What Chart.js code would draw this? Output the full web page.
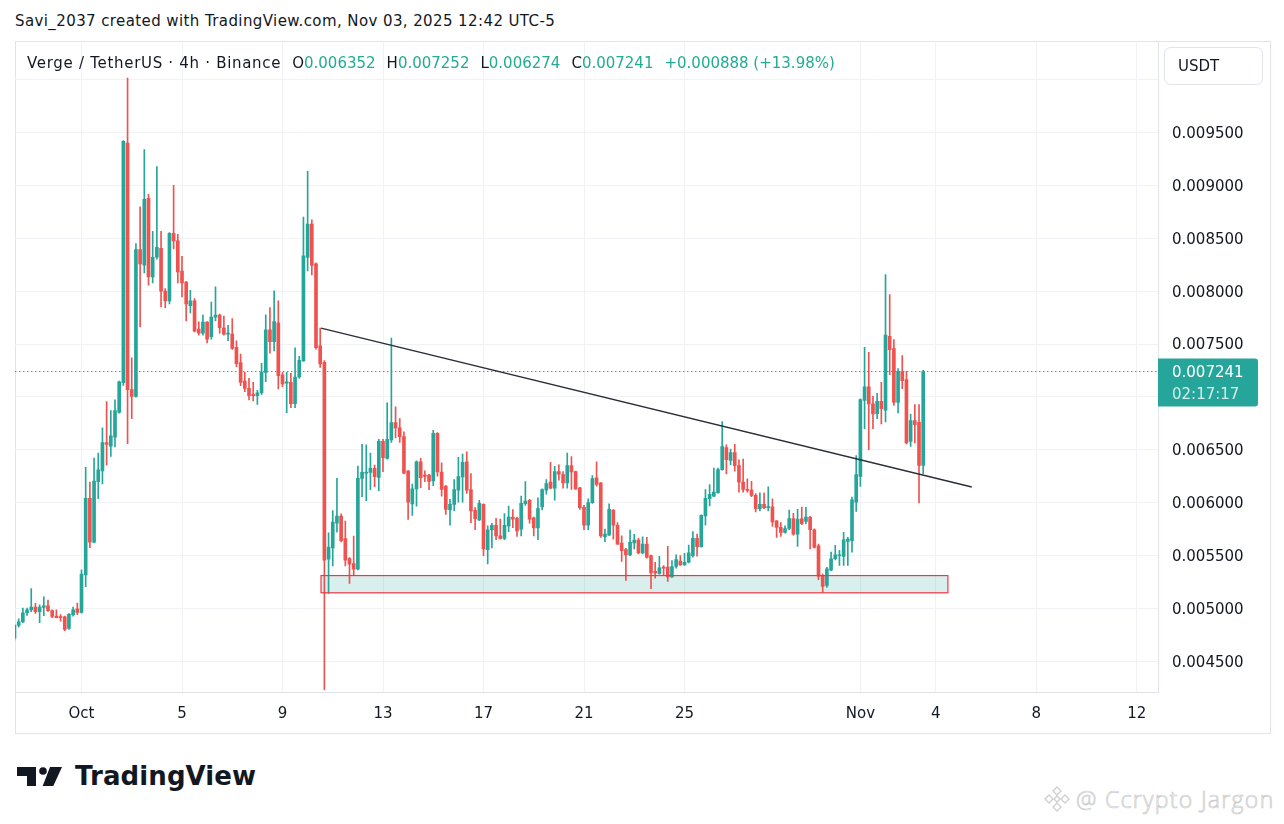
<!DOCTYPE html>
<html>
<head>
<meta charset="utf-8">
<script src="https://cdn.jsdelivr.net/npm/chart.js@4.4.1/dist/chart.umd.min.js"></script>
<style>
html,body{margin:0;padding:0;background:#fff;}
body{width:1284px;height:824px;position:relative;overflow:hidden;font-family:"DejaVu Sans",sans-serif;color:#131722;}
#title{position:absolute;left:15px;top:11px;font-size:15px;line-height:20px;white-space:nowrap;letter-spacing:0.4px;}
#pane{position:absolute;left:15px;top:41px;width:1256px;height:693px;box-sizing:border-box;border:1px solid #e0e3eb;}
#chart{position:absolute;left:15px;top:41px;}
#legend{position:absolute;left:27px;top:53px;font-size:15px;line-height:20px;white-space:nowrap;}
#legend .sym{letter-spacing:0.7px;}
#legend .v{color:#22ab94;}
#legend .k{margin-left:11px;}
#logo{position:absolute;left:17px;top:765px;}
#logotext{position:absolute;left:75px;top:760px;font-family:"DejaVu Sans",sans-serif;font-weight:bold;font-size:26px;line-height:32px;color:#131722;letter-spacing:0.1px;}
#wm{position:absolute;left:1042px;top:784px;height:30px;white-space:nowrap;}
#wmtext{position:absolute;left:34px;top:0;font-family:"Open Sans",sans-serif;font-weight:300;font-size:23px;line-height:30px;color:#fff;letter-spacing:1.3px;-webkit-text-stroke:0.7px #cacaca;}
</style>
</head>
<body>
<div id="title">Savi_2037 created with TradingView.com, Nov 03, 2025 12:42 UTC-5</div>
<div id="pane"></div>
<canvas id="chart" width="1255" height="692"></canvas>
<div id="legend"><span class="sym">Verge / TetherUS · 4h · Binance</span><span class="k">O</span><span class="v">0.006352</span><span class="k">H</span><span class="v">0.007252</span><span class="k">L</span><span class="v">0.006274</span><span class="k">C</span><span class="v">0.007241</span><span class="k v">+0.000888 (+13.98%)</span></div>
<svg id="logo" width="48" height="26" viewBox="0 0 48 26">
  <rect x="0" y="2" width="19" height="9" fill="#131722"/>
  <rect x="10" y="2" width="9" height="19" fill="#131722"/>
  <circle cx="26" cy="6" r="3.8" fill="#131722"/>
  <polygon points="33,2 45,2 36.3,21 25.7,21" fill="#131722"/>
</svg>
<div id="logotext">TradingView</div>
<div id="wm">
  <svg width="30" height="30" viewBox="0 0 30 30" style="position:absolute;left:0;top:0">
    <g fill="none" stroke="#cfcfcf" stroke-width="1.3">
      <polygon points="15,3 19,7 15,11 11,7"/>
      <polygon points="7,11 11,15 7,19 3,15"/>
      <polygon points="23,11 27,15 23,19 19,15"/>
      <polygon points="15,12 18,15 15,18 12,15"/>
      <polygon points="15,19 19,23 15,27 11,23"/>
    </g>
  </svg>
  <div id="wmtext">@ Ccrypto Jargon</div>
</div>
<script>
// Prices are in micro-USDT (1e-6 USDT). Candle i is the i-th 4h bar, first bar = Sep 28 11:00 (UTC-5).
const O = [4720,4840,4873,4959,4986,5014,4969,5010,5024,4979,4928,4921,4921,4812,4942,4997,4962,5318,6041,5627,
6198,6301,6568,6534,6620,6853,7134,9401,7069,7004,8394,8245,8877,8135,8321,8406,8000,7909,8547,8475,
8189,8085,7862,7909,7641,7604,7707,7569,7755,7773,7651,7594,7594,7468,7324,7150,7082,7025,7012,7038,
7233,7634,7523,7700,7208,7130,7139,6937,7189,7340,8319,8634,8259,7483,7328,5465,5572,5807,5873,5660,
5472,5425,5371,6230,6280,6287,6324,6240,6581,6419,6594,6757,6707,6625,6299,5989,6130,6387,6262,6262,
6205,6657,6290,6156,5931,5984,6119,6244,6387,6125,5928,5837,5984,5556,5744,5787,5687,5662,5781,5865,
5853,5750,5990,6022,5856,5762,5959,6119,6194,6137,6294,6266,6187,6350,6294,6141,5956,5787,6000,6234,
6187,5678,5694,5931,5787,5619,5556,5506,5619,5647,5525,5609,5500,5350,5328,5391,5391,5297,5397,5447,
5412,5437,5500,5662,5584,5875,6037,6062,6094,6312,6522,6400,6475,6350,6194,6125,6119,6069,5944,5984,
5953,5962,5828,5766,5719,5756,5850,5703,5848,5823,5861,5744,5593,5309,5218,5362,5470,5498,5492,5634,
5640,6006,6249,6968,7095,6934,6842,6959,6874,7574,7457,6949,7237,7164,6580,6776,6760,6352];
const H = [4850,4901,5003,5003,5188,5048,5034,5110,5079,4986,4986,4942,4928,4952,5014,5051,5366,6335,6195,6421,
6469,6709,6955,6870,6972,7151,9425,10014,7370,8449,8798,9340,8915,8566,9179,8566,8025,8555,9000,8538,
8330,8090,8009,7931,7711,7773,7712,7896,8041,7783,7764,7676,7742,7531,7405,7233,7176,7139,7063,7318,
7776,7845,8003,7908,7233,7233,7224,7464,7385,8700,9133,8675,8268,7650,7343,5716,5926,6230,5895,5826,
5480,5685,6346,6553,6547,6469,6356,6600,6600,6945,7556,6907,6795,6669,6305,6177,6397,6419,6302,6268,
6685,6663,6378,6162,6031,6219,6428,6459,6481,6275,5953,6022,5990,5781,5806,5853,5844,5897,5969,5934,
5865,6062,6200,6031,5865,6047,6131,6219,6381,6344,6359,6294,6469,6437,6300,6145,5975,6037,6256,6387,
6190,5750,5990,5935,5812,5687,5569,5740,5700,5666,5678,5672,5505,5437,5494,5406,5587,5453,5506,5500,
5522,5600,5728,5703,5885,6125,6172,6328,6328,6766,6547,6506,6553,6406,6412,6225,6203,6087,6094,6094,
6150,6037,5832,5812,5781,5931,5900,5937,5959,5956,5870,5754,5609,5324,5388,5533,5596,5549,5719,5672,
6053,6445,6981,7470,7423,7006,7035,7139,8158,7968,7543,7268,7391,7243,6839,6927,6927,7252];
const L = [4700,4822,4866,4935,4969,4952,4866,4932,4973,4914,4910,4880,4791,4801,4928,4942,4955,5205,5575,5620,
6037,6178,6356,6438,6527,6846,7110,6558,6794,6998,7661,8173,8057,8079,8302,7852,7843,7880,8399,8079,
7946,7720,7795,7615,7585,7585,7512,7547,7720,7604,7585,7531,7450,7286,7107,7050,6971,6962,6930,7025,
7145,7413,7435,7075,7098,6851,6899,6899,7176,7335,8192,8154,7451,7280,4233,5142,5403,5722,5628,5403,
5237,5309,5365,6058,6020,6124,6152,6114,6293,6412,6569,6613,6569,6271,5842,5879,5967,6143,6199,6124,
6162,6250,6062,5890,5787,5922,6006,6006,6087,5812,5744,5830,5500,5422,5572,5650,5656,5650,5725,5765,
5681,5687,5975,5806,5687,5650,5931,6081,6131,6025,6212,6137,6137,6125,6125,5937,5744,5744,5994,6156,
5672,5631,5690,5656,5605,5444,5266,5500,5562,5516,5516,5475,5187,5287,5324,5312,5256,5293,5381,5406,
5406,5431,5484,5494,5580,5787,5969,6056,6090,6308,6272,6359,6297,6100,6100,6100,6056,5912,5922,5944,
5922,5775,5672,5681,5712,5744,5694,5587,5792,5800,5564,5571,5271,5154,5199,5358,5460,5407,5407,5407,
5533,5918,6154,6700,6501,6700,6795,6744,6763,7211,6921,6848,7079,6555,6533,6565,5997,6274];
const C = [4840,4873,4959,4986,5014,4969,5014,5024,4979,4925,4914,4914,4801,4945,4986,4962,5325,6041,5627,6205,
6311,6568,6551,6633,6870,7144,9418,7069,7004,8394,8257,8868,8135,8321,8415,8000,7909,8547,8475,8182,
8079,7880,7909,7622,7604,7707,7547,7755,7773,7654,7594,7604,7459,7314,7138,7080,7012,7012,7038,7233,
7634,7523,7713,7202,7123,7142,6937,7189,7347,8334,8634,8243,7467,7312,5456,5581,5817,5873,5641,5456,
5418,5371,6230,6287,6290,6324,6246,6581,6425,6600,6757,6707,6625,6280,6005,6130,6387,6237,6249,6202,
6657,6290,6125,5937,5984,6125,6247,6381,6119,5922,5850,5994,5562,5744,5787,5687,5662,5787,5865,5844,
5734,5994,6016,5844,5762,5944,6125,6181,6137,6294,6269,6187,6350,6291,6131,5953,5787,6000,6228,6172,
5687,5703,5937,5787,5609,5547,5506,5625,5647,5525,5609,5484,5337,5337,5384,5381,5297,5397,5462,5412,
5437,5525,5662,5584,5881,6041,6078,6100,6312,6531,6406,6475,6350,6194,6125,6116,6069,5944,5984,5953,
5962,5819,5766,5719,5756,5850,5703,5844,5801,5864,5744,5577,5302,5208,5375,5470,5508,5508,5650,5656,
6028,6265,6975,7095,6934,6839,6959,6889,7584,7448,6949,7243,7154,6565,6776,6738,6352,7241];

// Time axis: bar index of each day label
const TIME_TICKS = [16, 40, 64, 88, 112, 136, 160, 202, 220, 244, 268];
const TIME_LABELS = ['Oct', '5', '9', '13', '17', '21', '25', 'Nov', '4', '8', '12'];
// Price axis gridlines (micro-USDT) and labels hidden behind overlays
const PRICE_TICKS = [4500, 5000, 5500, 6000, 6500, 7000, 7500, 8000, 8500, 9000, 9500, 10000];
const PRICE_HIDDEN = [7000, 10000];
const LAST_PRICE = 7241;
const COUNTDOWN = '02:17:17';
// Drawings (bar index, micro-USDT)
const TREND_LINE = [{x: 73.2, y: 7651}, {x: 228.6, y: 6148}];
const ZONE = {x0: 73.2, x1: 222.9, low: 5148, high: 5311};

const UP = '#26a69a', DOWN = '#ef5350';
const FONT = 'DejaVu Sans';
const idx = O.map((_, i) => i);
const col = (ctx) => (C[ctx.dataIndex] >= O[ctx.dataIndex] ? UP : DOWN);

const overlayPlugin = {
  id: 'overlay',
  beforeDatasetsDraw(chart) {
    const {ctx, chartArea: a, scales: {x, y}} = chart;
    ctx.save();
    ctx.beginPath(); ctx.rect(a.left, a.top, a.right - a.left, a.bottom - a.top); ctx.clip();
    const zx0 = x.getPixelForValue(ZONE.x0), zx1 = x.getPixelForValue(ZONE.x1);
    const zy0 = y.getPixelForValue(ZONE.high), zy1 = y.getPixelForValue(ZONE.low);
    ctx.fillStyle = 'rgba(38,166,154,0.18)';
    ctx.fillRect(zx0, zy0, zx1 - zx0, zy1 - zy0);
    const py = Math.round(y.getPixelForValue(LAST_PRICE)) + 0.5;
    ctx.strokeStyle = UP; ctx.lineWidth = 1; ctx.setLineDash([1.5, 2.5]);
    ctx.beginPath(); ctx.moveTo(a.left, py); ctx.lineTo(a.right, py); ctx.stroke();
    ctx.restore();
  },
  afterDatasetsDraw(chart) {
    const {ctx, scales: {x, y}} = chart;
    ctx.save();
    const zx0 = x.getPixelForValue(ZONE.x0), zx1 = x.getPixelForValue(ZONE.x1);
    const zy0 = y.getPixelForValue(ZONE.high), zy1 = y.getPixelForValue(ZONE.low);
    ctx.strokeStyle = '#f23645'; ctx.lineWidth = 1.2;
    ctx.strokeRect(zx0, zy0, zx1 - zx0, zy1 - zy0);
    ctx.restore();
  },
  afterDraw(chart) {
    const {ctx, chartArea: a, scales: {y}} = chart;
    ctx.save();
    const bx = a.right + 6, by = 6, bw = 98, bh = 37;
    ctx.beginPath(); ctx.roundRect(bx + 0.5, by + 0.5, bw, bh, 6);
    ctx.fillStyle = '#fff'; ctx.fill();
    ctx.strokeStyle = '#e0e3eb'; ctx.lineWidth = 1; ctx.stroke();
    ctx.fillStyle = '#131722'; ctx.font = '15px "' + FONT + '"';
    ctx.textBaseline = 'middle'; ctx.textAlign = 'left';
    ctx.fillText('USDT', a.right + 20, by + bh / 2 + 1.5);
    const py = y.getPixelForValue(LAST_PRICE);
    ctx.beginPath(); ctx.roundRect(a.right, py - 13, 100, 48, [0, 3, 3, 0]);
    ctx.fillStyle = UP; ctx.fill();
    ctx.fillStyle = '#ffffff';
    ctx.fillText((LAST_PRICE / 1e6).toFixed(6), a.right + 14, py + 2);
    ctx.fillStyle = 'rgba(255,255,255,0.8)';
    ctx.fillText(COUNTDOWN, a.right + 14, py + 24);
    ctx.restore();
  }
};

new Chart(document.getElementById('chart'), {
  type: 'bar',
  data: {
    datasets: [
      {
        type: 'line', data: TREND_LINE, borderColor: '#2a2e39', borderWidth: 1.4,
        pointRadius: 0, order: 0
      },
      {
        data: idx.map(i => ({x: i, y: [O[i], C[i]]})), backgroundColor: col,
        barThickness: 3, minBarLength: 1, grouped: false, borderWidth: 0, order: 1
      },
      {
        data: idx.map(i => ({x: i, y: [L[i], H[i]]})), backgroundColor: col,
        barThickness: 1, grouped: false, borderWidth: 0, order: 2
      }
    ]
  },
  options: {
    responsive: false, animation: false, devicePixelRatio: 1,
    layout: {padding: 0},
    plugins: {legend: {display: false}, tooltip: {enabled: false}},
    scales: {
      x: {
        type: 'linear', min: 0.12, max: 273.07, offset: false,
        afterBuildTicks: (s) => { s.ticks = TIME_TICKS.map(v => ({value: v})); },
        afterFit: (s) => { s.height = 41; },
        ticks: {
          autoSkip: false, maxRotation: 0, padding: 13, color: '#131722',
          font: {family: FONT, size: 15},
          callback: (v) => { const k = TIME_TICKS.indexOf(v); return k >= 0 ? TIME_LABELS[k] : ''; }
        },
        grid: {color: '#f0f2f5', drawTicks: false, offset: false},
        border: {display: true, color: '#e0e3eb'}
      },
      y: {
        type: 'linear', position: 'right', min: 4210, max: 10361,
        afterBuildTicks: (s) => { s.ticks = PRICE_TICKS.map(v => ({value: v})); },
        afterFit: (s) => { s.width = 112; },
        ticks: {
          padding: 0, labelOffset: 1.5, color: '#131722', font: {family: FONT, size: 15, lineHeight: '1px'},
          callback: (v) => (PRICE_HIDDEN.includes(v) ? '' : (v / 1e6).toFixed(6))
        },
        grid: {color: '#f0f2f5', drawTicks: true, tickLength: 14, tickColor: 'rgba(0,0,0,0)'},
        border: {display: true, color: '#e0e3eb'}
      }
    }
  },
  plugins: [overlayPlugin]
});
</script>
</body>
</html>
